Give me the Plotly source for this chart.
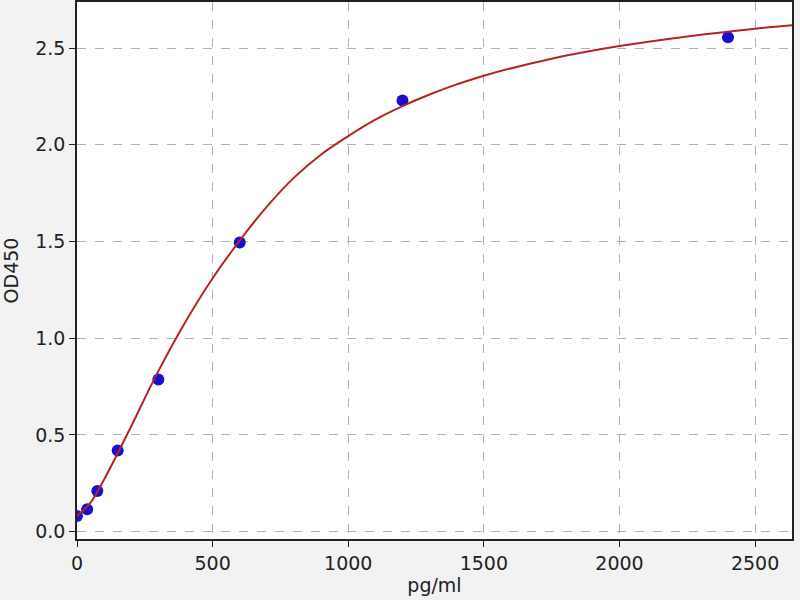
import plotly.graph_objects as go

# Standards (measured points)
conc = [0, 37.5, 75, 150, 300, 600, 1200, 2400]
od = [0.081, 0.116, 0.21, 0.42, 0.787, 1.495, 2.229, 2.556]

# Fitted curve
curve_x = [0, 50, 100, 150, 200, 250, 300, 400, 500, 600, 700, 800, 900, 1000,
           1100, 1200, 1300, 1400, 1500, 1750, 2000, 2250, 2500, 2640]
curve_y = [0.08, 0.15, 0.27, 0.405, 0.545, 0.69, 0.83, 1.085, 1.31, 1.505, 1.68, 1.83, 1.95, 2.045,
           2.13, 2.20, 2.26, 2.312, 2.357, 2.445, 2.51, 2.56, 2.60, 2.618]

x_ticks = [0, 500, 1000, 1500, 2000, 2500]
y_ticks = [0.0, 0.5, 1.0, 1.5, 2.0, 2.5]
y_tick_text = ["0.0", "0.5", "1.0", "1.5", "2.0", "2.5"]

fig = go.Figure()
fig.add_trace(go.Scatter(
    x=conc, y=od, mode="markers",
    marker=dict(color="#1a0fcf", size=12, line=dict(width=0)),
    showlegend=False, cliponaxis=True,
))
fig.add_trace(go.Scatter(
    x=curve_x, y=curve_y, mode="lines", line_shape="spline",
    line=dict(color="#b52424", width=2),
    showlegend=False,
))

font_family = "DejaVu Sans"
axis_common = dict(
    showline=True, linecolor="#222222", linewidth=1.5, mirror=True,
    ticks="outside", ticklen=6, tickwidth=1.3, tickcolor="#222222",
    showgrid=True, gridcolor="#b0b0b0", griddash="dash", gridwidth=1,
    zeroline=False, automargin=False,
    tickfont=dict(family=font_family, size=19, color="#222222"),
)

fig.update_layout(
    width=800, height=600,
    margin=dict(l=77, r=8, t=2, b=61),
    paper_bgcolor="#f2f2f2", plot_bgcolor="#ffffff",
    xaxis=dict(range=[0, 2636], tickvals=x_ticks,
               title=dict(text="pg/ml", font=dict(family=font_family, size=19, color="#222222"), standoff=2),
               **axis_common),
    yaxis=dict(range=[-0.038, 2.738], tickvals=y_ticks, ticktext=y_tick_text,
               title=dict(text="OD450", font=dict(family=font_family, size=19, color="#222222"), standoff=14),
               **axis_common),
)

fig.write_html("out.html",
               config={"displayModeBar": False},
               post_script="document.body.style.margin='0px';document.body.style.padding='0px';document.body.style.background='#f2f2f2';")
